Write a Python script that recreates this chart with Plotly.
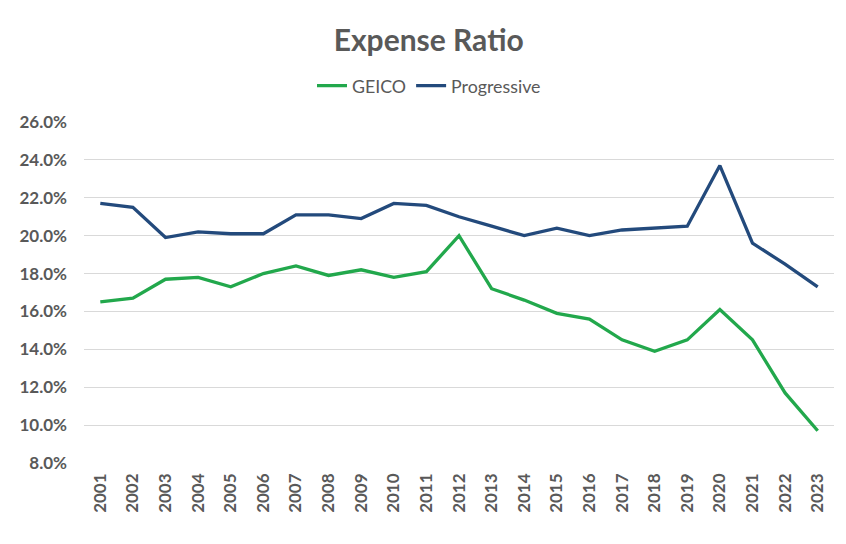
import plotly.graph_objects as go

years = [str(y) for y in range(2001, 2024)]
geico = [16.5, 16.7, 17.7, 17.8, 17.3, 18.0, 18.4, 17.9, 18.2, 17.8, 18.1, 20.0,
         17.2, 16.6, 15.9, 15.6, 14.5, 13.9, 14.5, 16.1, 14.5, 11.7, 9.7]
progressive = [21.7, 21.5, 19.9, 20.2, 20.1, 20.1, 21.1, 21.1, 20.9, 21.7, 21.6, 21.0,
               20.5, 20.0, 20.4, 20.0, 20.3, 20.4, 20.5, 23.7, 19.6, 18.5, 17.3]
y_ticks = [8, 10, 12, 14, 16, 18, 20, 22, 24, 26]
y_tick_labels = [f"{v:.1f}%" for v in y_ticks]

FONT = "Lato, Open Sans, sans-serif"
GRAY = "#595959"

# page body has an 8px margin, so figure coords = screen coords - 8
L, R, T, B = 76, 20, 114, 89
PH = 544 - T - B

fig = go.Figure()
fig.add_trace(go.Scatter(x=years, y=geico, mode="lines", name="GEICO",
                         line=dict(color="#22A84C", width=3.3)))
fig.add_trace(go.Scatter(x=years, y=progressive, mode="lines", name="Progressive",
                         line=dict(color="#234A7C", width=3.3)))

fig.update_layout(
    width=846, height=544,
    margin=dict(l=L, r=R, t=T, b=B, autoexpand=False),
    paper_bgcolor="white", plot_bgcolor="white",
    title=dict(text="<b>Expense Ratio</b>", x=420.7 / 846, xanchor="center",
               y=1 - 32 / 544, yanchor="middle",
               font=dict(family=FONT, size=30, color=GRAY)),
    legend=dict(orientation="h", x=(304 - L) / (846 - L - R), xanchor="left",
                y=1 + (T - 78) / PH, yanchor="middle",
                font=dict(family=FONT, size=17.8, color=GRAY),
                traceorder="normal"),
    showlegend=True,
)
fig.update_xaxes(type="category", range=[-0.5, 22.5], tickangle=-90,
                 tickvals=years, ticktext=[f"<b>{y}</b>" for y in years],
                 showgrid=False, showline=False, ticks="", automargin=False,
                 tickfont=dict(family=FONT, size=17, color=GRAY), ticklabelstandoff=6)
fig.update_yaxes(range=[8, 26], tickvals=y_ticks, ticktext=[f"<b>{t}</b>" for t in y_tick_labels],
                 showgrid=True, gridcolor="#D9D9D9", gridwidth=1.3, zeroline=False,
                 showline=False, ticks="", ticklabelstandoff=16, automargin=False,
                 tickfont=dict(family=FONT, size=17, color=GRAY))

fig.write_html("out.html")
